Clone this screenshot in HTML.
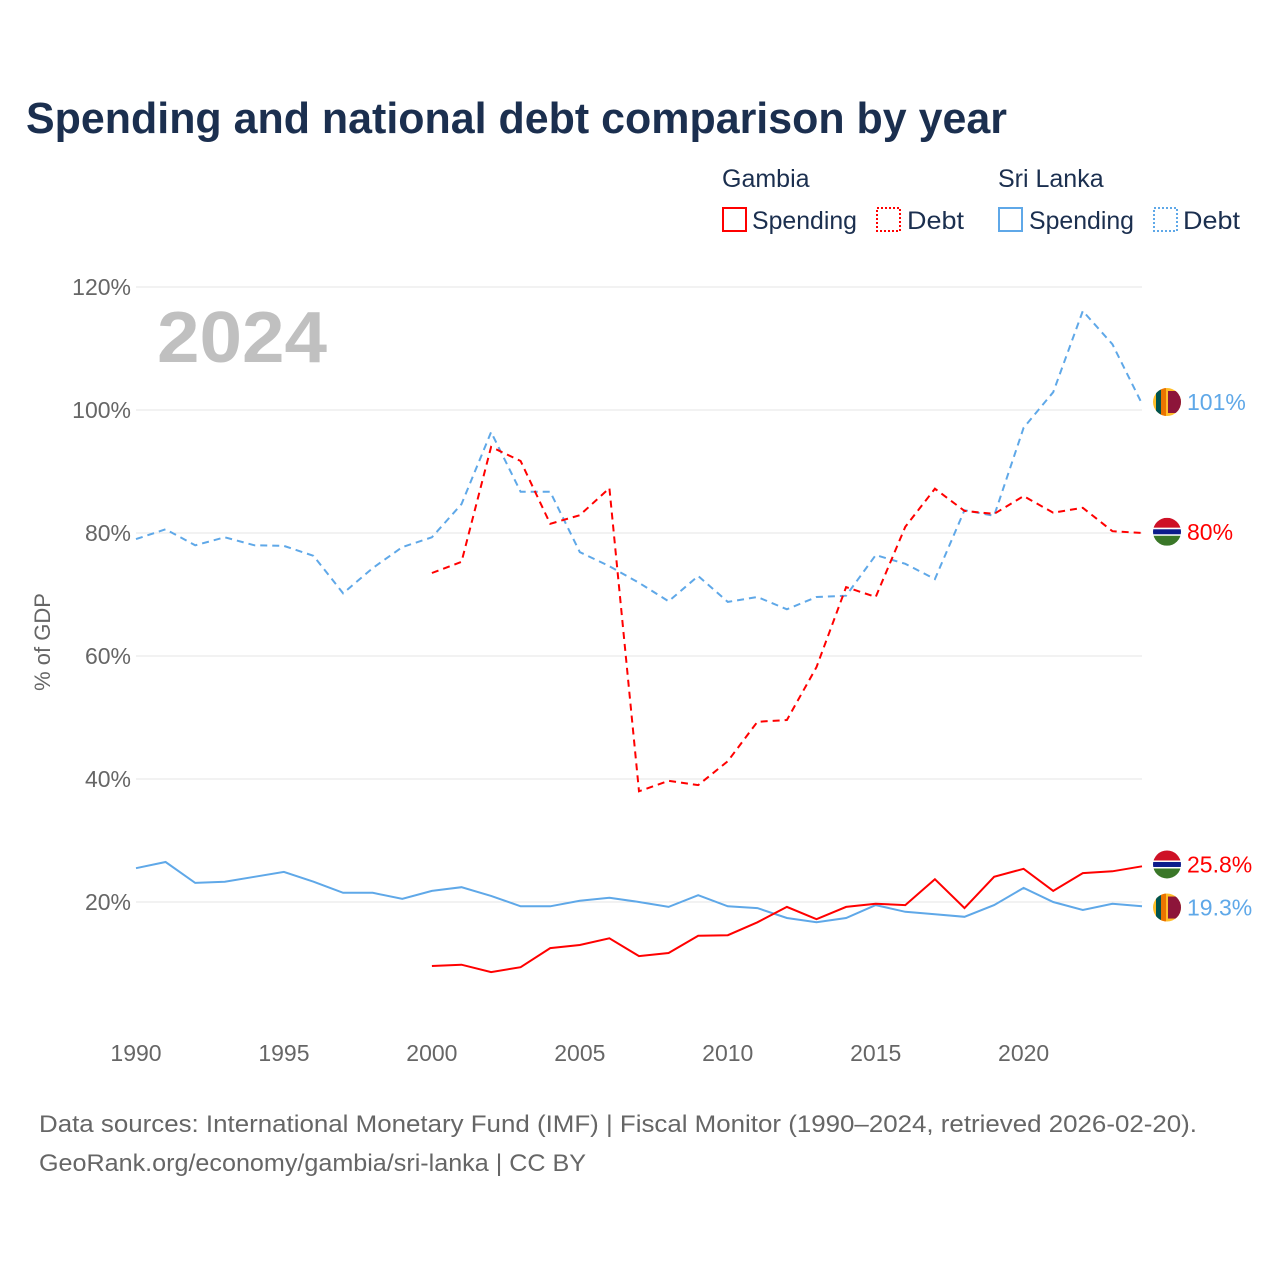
<!DOCTYPE html>
<html><head><meta charset="utf-8"><style>
body{margin:0;background:#fff;font-family:"Liberation Sans",sans-serif}
#wrap{position:relative;width:1280px;height:1280px;overflow:hidden}
svg{position:absolute;left:0;top:0}
</style></head><body><div id="wrap">
<svg id="chart" width="1280" height="1280">
<text x="26" y="133" font-size="44" font-weight="bold" fill="#1b2f4f" textLength="981" lengthAdjust="spacingAndGlyphs">Spending and national debt comparison by year</text>
<g font-size="25" fill="#1b2f4f">
<text x="722" y="187">Gambia</text>
<text x="998" y="187">Sri Lanka</text>
<g><rect x="723" y="208" width="23" height="23" fill="none" stroke="#f00" stroke-width="2"/><text x="752" y="229" textLength="105" lengthAdjust="spacingAndGlyphs">Spending</text></g>
<g><rect x="877" y="208" width="23" height="23" fill="none" stroke="#f00" stroke-width="2" stroke-dasharray="2,2"/><text x="907" y="229" textLength="57" lengthAdjust="spacingAndGlyphs">Debt</text></g>
<g><rect x="999" y="208" width="23" height="23" fill="none" stroke="#5fa8e8" stroke-width="2"/><text x="1029" y="229" textLength="105" lengthAdjust="spacingAndGlyphs">Spending</text></g>
<g><rect x="1154" y="208" width="23" height="23" fill="none" stroke="#5fa8e8" stroke-width="2" stroke-dasharray="2,2"/><text x="1183" y="229" textLength="57" lengthAdjust="spacingAndGlyphs">Debt</text></g>
</g>
<text x="157" y="362" font-size="72" font-weight="bold" fill="#c0c0c0" textLength="170" lengthAdjust="spacingAndGlyphs">2024</text>
<text transform="translate(50,642) rotate(-90)" text-anchor="middle" font-size="22" fill="#666">% of GDP</text>
<g id="grid"></g><g id="series"></g><g id="ends"></g>
<g font-size="24" fill="#666">
<text x="39" y="1132" textLength="1158" lengthAdjust="spacingAndGlyphs">Data sources: International Monetary Fund (IMF) | Fiscal Monitor (1990–2024, retrieved 2026-02-20).</text>
<text x="39" y="1171" textLength="547" lengthAdjust="spacingAndGlyphs">GeoRank.org/economy/gambia/sri-lanka | CC BY</text>
</g>
</svg></div>
<script>
const years=[];for(let y=1990;y<=2024;y++)years.push(y);
const yTicks=[20,40,60,80,100,120];
const xTicks=[1990,1995,2000,2005,2010,2015,2020];
const slDebt=[79.0,80.6,78.0,79.3,78.0,77.9,76.3,70.2,74.3,77.7,79.3,84.7,96.4,86.7,86.7,76.9,74.6,71.9,68.9,73.0,68.8,69.6,67.6,69.6,69.8,76.4,75.0,72.5,83.7,82.8,97.1,102.9,116.1,110.7,101.0];
const slSpend=[25.5,26.5,23.1,23.3,24.1,24.9,23.3,21.5,21.5,20.5,21.8,22.4,21.0,19.3,19.3,20.2,20.7,20.0,19.2,21.1,19.3,19.0,17.4,16.7,17.4,19.5,18.4,18.0,17.6,19.5,22.3,20.0,18.7,19.7,19.3];
const gmYears=years.slice(10);
const gmDebt=[73.5,75.3,94.0,91.7,81.5,82.9,87.3,38.0,39.7,39.0,42.9,49.3,49.6,58.2,71.2,69.6,81.0,87.2,83.6,83.1,86.0,83.3,84.1,80.3,80.0];
const gmSpend=[9.6,9.8,8.6,9.4,12.5,13.0,14.1,11.2,11.7,14.5,14.6,16.7,19.2,17.2,19.2,19.7,19.5,23.7,19.0,24.1,25.4,21.8,24.7,25.0,25.8];
const X=y=>136+(y-1990)*(1142-136)/34;
const Y=v=>1025-v*6.15;
const NS="http://www.w3.org/2000/svg";
function mk(t,a,p){const e=document.createElementNS(NS,t);for(const k in a)e.setAttribute(k,a[k]);p.appendChild(e);return e;}
const grid=document.getElementById('grid');
yTicks.forEach(v=>{
 const l=mk('line',{x1:136,x2:1142,y1:Y(v),y2:Y(v),stroke:'#e6e6e6','stroke-width':1},grid);
 
 
 const t=mk('text',{x:131,y:Y(v)+8,'text-anchor':'end','font-size':23,fill:'#666'},grid);t.textContent=v+'%';
 
 
});
xTicks.forEach(v=>{
 const t=mk('text',{x:X(v),y:1061,'text-anchor':'middle','font-size':23,fill:'#666'},grid);t.textContent=v;
 
 
});
const sg=document.getElementById('series');
function line(xs,vs,col,dash,name){
 const d=vs.map((v,i)=>(i?'L':'M')+X(xs[i]).toFixed(1)+','+Y(v).toFixed(1)).join('');
 const p=mk('path',{d:d,fill:'none',stroke:col,'stroke-width':2,'stroke-dasharray':dash||'none'},sg);
 
 
}
line(years,slDebt,'#5fa8e8','7,5','line-srilanka-debt');
line(gmYears,gmDebt,'#f00','7,5','line-gambia-debt');
line(years,slSpend,'#5fa8e8','','line-srilanka-spending');
line(gmYears,gmSpend,'#f00','','line-gambia-spending');
const eg=document.getElementById('ends');
function flag(cx,cy,type,name){
 const g=mk('g',{},eg);
 
 
 const id='c'+Math.round(cy);
 const cp=mk('clipPath',{id:id},g);mk('circle',{cx:cx,cy:cy,r:14},cp);
 const gg=mk('g',{'clip-path':'url(#'+id+')'},g);
 if(type==='gm'){
  mk('rect',{x:cx-14,y:cy-14,width:28,height:10,fill:'#ce1126'},gg);
  mk('rect',{x:cx-14,y:cy-4,width:28,height:8,fill:'#fff'},gg);
  mk('rect',{x:cx-14,y:cy-2.5,width:28,height:5,fill:'#0c1c8c'},gg);
  mk('rect',{x:cx-14,y:cy+4,width:28,height:10,fill:'#3a7728'},gg);
 }else{
  mk('rect',{x:cx-14,y:cy-14,width:28,height:28,fill:'#ffbe29'},gg);
  mk('rect',{x:cx-11,y:cy-14,width:5,height:28,fill:'#00534e'},gg);
  mk('rect',{x:cx-6,y:cy-14,width:5,height:28,fill:'#eb7400'},gg);
  mk('rect',{x:cx+1,y:cy-11,width:13,height:22,fill:'#8d153a'},gg);
 }
}
function endLabel(v,type,col,txt,name){
 const cy=Y(v);flag(1167,cy,type,'flag-'+name);
 const t=mk('text',{x:1187,y:cy+8,'font-size':23,fill:col},eg);t.textContent=txt;
 
 
}
endLabel(slDebt[slDebt.length-1]+0.3,'sl','#5fa8e8','101%','srilanka-debt');
endLabel(gmDebt[gmDebt.length-1]+0.2,'gm','#f00','80%','gambia-debt');
endLabel(gmSpend[gmSpend.length-1]+0.3,'gm','#f00','25.8%','gambia-spending');
endLabel(slSpend[slSpend.length-1]-0.2,'sl','#5fa8e8','19.3%','srilanka-spending');
</script></body></html>
